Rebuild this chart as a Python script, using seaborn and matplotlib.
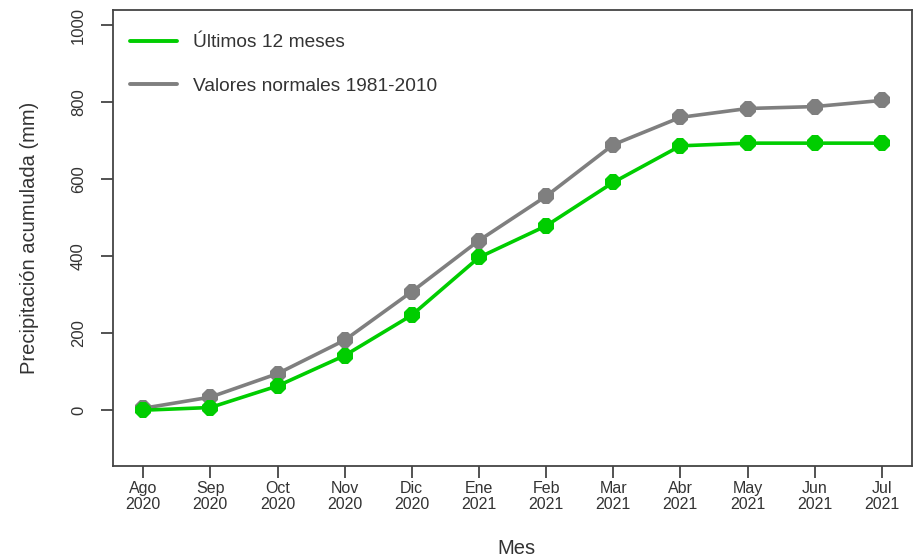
import matplotlib
matplotlib.use("Agg")
import matplotlib.pyplot as plt
from matplotlib.lines import Line2D
import seaborn as sns
import pandas as pd
import numpy as np

months = ["Ago\n2020", "Sep\n2020", "Oct\n2020", "Nov\n2020", "Dic\n2020", "Ene\n2021",
          "Feb\n2021", "Mar\n2021", "Abr\n2021", "May\n2021", "Jun\n2021", "Jul\n2021"]
ultimos = [0, 7, 63, 142, 247, 397, 479, 592, 687, 694, 694, 694]
normales = [5, 34, 95, 182, 308, 441, 556, 690, 761, 784, 789, 805]
series_names = ["Últimos 12 meses", "Valores normales 1981-2010"]
colors = ["#00CD00", "#7F7F7F"]
yticks = [0, 200, 400, 600, 800, 1000]

sns.set_theme(style="white")
plt.rcParams['font.family'] = ['Liberation Sans', 'DejaVu Sans']

idx = np.arange(len(months))
df = pd.concat([
    pd.DataFrame({"x": idx, "y": ultimos, "serie": series_names[0]}),
    pd.DataFrame({"x": idx, "y": normales, "serie": series_names[1]}),
])

W, H = 917, 559
fig = plt.figure(figsize=(W / 100, H / 100), dpi=100)
ax = fig.add_axes([113 / W, 1 - 466 / H, (912 - 113) / W, (466 - 10) / H])

sns.lineplot(data=df, x="x", y="y", hue="serie", hue_order=series_names[::-1],
             palette={series_names[0]: colors[0], series_names[1]: colors[1]},
             marker="8", markersize=13, markeredgewidth=0, linewidth=2.6,
             ax=ax, legend=False)

txt = "#333333"
ax.set_xlim(-0.45, 11.45)
ax.set_ylim(-145, 1040)
ax.set_xticks(idx)
ax.set_xticklabels(months, fontsize=11.5, color=txt, linespacing=1.15)
ax.set_yticks(yticks)
ax.set_yticklabels([str(v) for v in yticks], fontsize=12, color=txt,
                   rotation=90, va="center")
ax.tick_params(axis="both", length=8.5, width=1.3, color="#444444", direction="out",
               bottom=True, left=True)
ax.tick_params(axis="x", pad=2)
ax.tick_params(axis="y", pad=11)
for s in ax.spines.values():
    s.set_color("#444444")
    s.set_linewidth(1.3)

ax.set_xlabel("")
ax.set_ylabel("")
fig.text(516 / W, 1 - 549 / H, "Mes", fontsize=14.5, color=txt, ha="center", va="center")
fig.text(30 / W, 1 - 238 / H, "Precipitación acumulada (mm)", fontsize=14.5, color=txt,
         ha="center", va="center", rotation=90)

handles = [Line2D([0], [0], color=c, lw=2.8) for c in colors]
ax.legend(handles, series_names, loc="upper left", frameon=False, fontsize=13.8,
          handlelength=2.45, handletextpad=0.85, labelspacing=1.35,
          borderpad=0, borderaxespad=0,
          bbox_to_anchor=(130 / W, 1 - 34 / H), bbox_transform=fig.transFigure,
          labelcolor=txt)

fig.savefig("out.png", dpi=100)
